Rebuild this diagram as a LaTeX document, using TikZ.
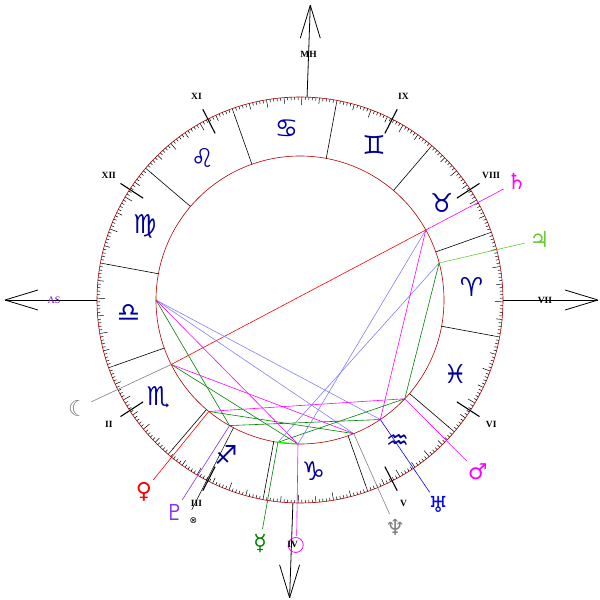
\documentclass[tikz,border=0pt]{standalone}
\usepackage{fontspec}
\setmainfont{Liberation Serif}
\newfontfamily\sym{DejaVu Sans}
\begin{document}
\begin{tikzpicture}[x=1pt,y=1pt,
  circ/.style={draw=red!70!black,line width=0.6pt},
  tick/.style={draw=black,line width=0.5pt},
  cusp/.style={draw=black,line width=1.1pt},
  signline/.style={draw=black,line width=0.6pt},
  sign/.style={text=blue!60!black,font=\sym\fontsize{26}{26}\selectfont,inner sep=0},
  hlab/.style={font=\bfseries\fontsize{9.5}{9.5}\selectfont,inner sep=0},
  pl/.style={font=\sym\fontsize{22}{22}\selectfont,inner sep=0},
  asp/.style={line width=0.6pt}]
\useasboundingbox (-300,-300) rectangle (300,300);
\definecolor{mag}{RGB}{255,0,255}
\definecolor{lblue}{RGB}{128,128,255}
\definecolor{dgreen}{RGB}{0,128,0}
\definecolor{lgreen}{RGB}{102,204,51}
\definecolor{purp}{RGB}{136,51,238}
\definecolor{asp}{RGB}{102,0,204}
% circles
\node[circ,circle,minimum size=406pt,inner sep=0] (outer) at (0,0) {};
\node[circ,circle,minimum size=288pt,inner sep=0] (inner) at (0,0) {};
% ticks
\foreach \i in {0,...,359}{
  \pgfmathsetmacro{\a}{169.5+\i}
  \pgfmathsetmacro{\l}{ifthenelse(mod(\i,10)==0,8,ifthenelse(mod(\i,5)==0,6,3))}
  \draw[tick] (\a:203) -- (\a:{203-\l});
}
% sign boundaries and glyphs
\foreach \k in {0,...,11}{ \draw[signline] (169.5+30*\k:144) -- (169.5+30*\k:196); }
\foreach \g [count=\k from 0] in {♎,♏,♐,♑,♒,♓,♈,♉,♊,♋,♌,♍}{
  \node[sign] (s\k) at ({184.5+30*\k}:172) {\g};
}
% house cusps
\foreach \a/\t in {213/II,243/III,297/V,327/VI,33/VIII,63/IX,117/XI,147/XII}{
  \draw[cusp] (\a:187) -- (\a:214);
  \node[hlab] (h\t) at (\a:228) {\t};
}
% axes
\coordinate (asi) at (180:203); \coordinate (aso) at (180:295);
\draw[asp,line width=0.8pt] (asi) -- (aso);
\draw[asp,line width=0.8pt] (aso) -- ++(33,10) (aso) -- ++(33,-10);
\node[text=asp,font=\fontsize{10}{10}\selectfont] (AS) at (180:246) {AS};
\coordinate (mhi) at (88:203); \coordinate (mho) at (88:295);
\draw[line width=0.8pt] (mhi) -- (mho);
\draw[line width=0.8pt] (mho) -- ++(-10,-33) (mho) -- ++(10,-33);
\node[hlab] (MH) at (88:246) {MH};
\coordinate (dsi) at (0:203); \coordinate (dso) at (0:298);
\draw[line width=0.8pt] (dsi) -- (dso);
\draw[line width=0.8pt] (dso) -- ++(-33,10) (dso) -- ++(-33,-10);
\node[hlab] (VII) at (0:245) {VII};
\coordinate (ici) at (268:203); \coordinate (ico) at (268:298);
\draw[line width=0.8pt] (ici) -- (ico);
\draw[line width=0.8pt] (ico) -- ++(-10,33) (ico) -- ++(10,33);
% planet points
\coordinate (A) at (180:144);
\coordinate (Sa) at (29.1:144);
\coordinate (Ju) at (14.9:144);
\coordinate (Mo) at (206.6:144);
\coordinate (Ve) at (230.7:144);
\coordinate (Pl) at (240.7:144);
\coordinate (Pf) at (242.5:144);
\coordinate (Me) at (261.2:144);
\coordinate (Su) at (269.2:144);
\coordinate (Ne) at (291.9:144);
\coordinate (Ur) at (303.9:144);
\coordinate (Ma) at (316.7:144);
% planet pointers and glyphs
\foreach \n/\a/\c/\g in {Sa/28.6/mag/♄,Ju/14.2/lgreen/♃,Ma/316/mag/♂,Ur/304/blue/♅,Ne/292.7/gray/♆,Me/260.7/dgreen/☿,Pl/239.5/purp/♇,Ve/230.8/red/♀,Mo/206/gray/☾}{
  \coordinate (e\n) at (\a:232);
  \draw[\c,line width=0.6pt] (\n) -- (e\n);
  \node[pl,text=\c] (g\n) at (\a:247) {\g};
}
\coordinate (eSu) at (269.2:236);
\draw[mag,line width=0.6pt] (Su) -- (eSu);
\node[circle,draw=mag,line width=0.8pt,minimum size=15pt,inner sep=0] (gSu) at (269:245) {};
\node[hlab] (hIV) at (268.3:245) {IV};
\coordinate (ePf) at (242.7:236);
\draw[line width=0.5pt] (Pf) -- (ePf);
\node[font=\sym\fontsize{9}{9}\selectfont,inner sep=0] (gPf) at (244.2:245) {⊗};
% aspects
\draw[asp,red] (Sa) -- (Mo);
\draw[asp,lblue] (A) -- (Ne);
\draw[asp,lblue] (A) -- (Ur);
\draw[asp,mag] (A) -- (Su);
\draw[asp,dgreen] (A) -- (Pl);
\draw[asp,mag] (Mo) -- (Ne);
\draw[asp,dgreen] (Mo) -- (Su);
\draw[asp,mag] (Ve) -- (Ma);
\draw[asp,dgreen] (Ve) -- (Ne);
\draw[asp,dgreen] (Pl) -- (Ur);
\draw[asp,dgreen] (Me) -- (Ma);
\draw[asp,lblue] (Me) -- (Ju);
\draw[asp,lblue] (Su) -- (Sa);
\draw[asp,mag] (Sa) -- (Ur);
\draw[asp,dgreen] (Ju) -- (Ma);
\draw[asp,green,line width=1pt] (Me) -- (Su);
\end{tikzpicture}
\end{document}
